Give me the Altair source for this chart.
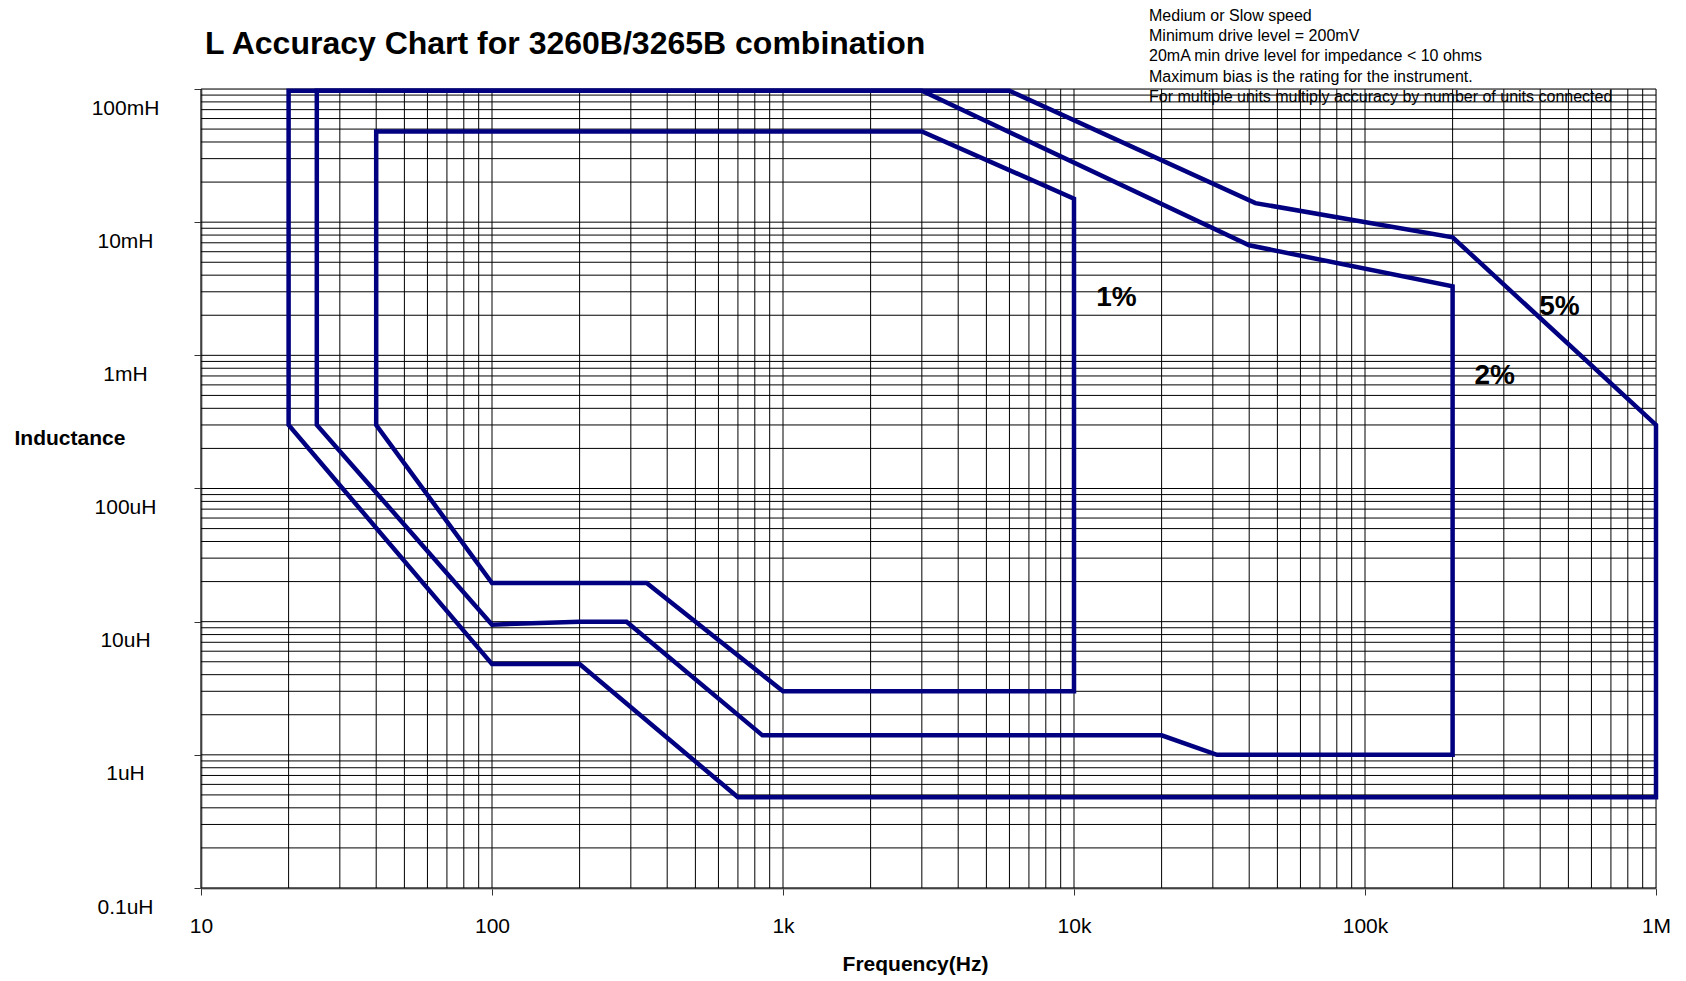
import altair as alt
import pandas as pd

FONT = "Liberation Sans"

# ---- data (frequency in Hz, inductance in H) ----
freq_1 = [40, 3000, 10000, 10000, 1000, 340, 100, 40, 40]
ind_1 = [0.048, 0.048, 0.015, 3e-6, 3e-6, 1.95e-5, 1.95e-5, 3e-4, 0.048]

freq_2 = [25, 3000, 40000, 200000, 200000, 31000, 20000, 850, 290, 200, 100, 25, 25]
ind_2 = [0.097, 0.097, 0.0067, 0.0033, 1e-6, 1e-6, 1.4e-6, 1.4e-6, 1e-5, 1e-5, 9.5e-6, 3e-4, 0.097]

freq_5 = [20, 6000, 42000, 200000, 1e6, 1e6, 700, 200, 100, 20, 20]
ind_5 = [0.097, 0.097, 0.0139, 0.0077, 3e-4, 4.8e-7, 4.8e-7, 4.8e-6, 4.8e-6, 3e-4, 0.097]

label_text = ["1%", "2%", "5%"]
label_freq = [14000, 279000, 466000]
label_ind = [2.7e-3, 0.7e-3, 2.3e-3]

x_tick_values = [10, 100, 1e3, 1e4, 1e5, 1e6]
x_tick_labels = ["10", "100", "1k", "10k", "100k", "1M"]
y_tick_values = [1e-7, 1e-6, 1e-5, 1e-4, 1e-3, 1e-2, 1e-1]
y_tick_labels = ["0.1uH", "1uH", "10uH", "100uH", "1mH", "10mH", "100mH"]

x_grid = [m * d for d in [10, 100, 1e3, 1e4, 1e5] for m in range(1, 10)] + [1e6]
y_grid = [m * d for d in [1e-7, 1e-6, 1e-5, 1e-4, 1e-3, 1e-2] for m in range(1, 10)] + [1e-1]

title_text = "L Accuracy Chart for 3260B/3265B combination"
note_lines = [
    "Medium or Slow speed",
    "Minimum drive level = 200mV",
    "20mA min drive level for impedance < 10 ohms",
    "Maximum bias is the rating for the instrument.",
    "For multiple units multiply accuracy by number of units connected",
]

# ---- tables ----
rows = []
for name, fs, ls in [("1%", freq_1, ind_1), ("2%", freq_2, ind_2), ("5%", freq_5, ind_5)]:
    for i, (f, l) in enumerate(zip(fs, ls)):
        rows.append({"series": name, "i": i, "f": f, "L": l})
curves_df = pd.DataFrame(rows)
labels_df = pd.DataFrame({"t": label_text, "f": label_freq, "L": label_ind})
xgrid_df = pd.DataFrame({"v": x_grid})
ygrid_df = pd.DataFrame({"v": y_grid})
one = pd.DataFrame({"t": [title_text]})

xs = alt.Scale(type="log", domain=[10, 1e6], nice=False)
ys = alt.Scale(type="log", domain=[1e-7, 1e-1], nice=False)

x_label_expr = "[" + ",".join("'%s'" % s for s in x_tick_labels) + "][round(log(datum.value)/LN10)-1]"
y_label_expr = "[" + ",".join("'%s'" % s for s in y_tick_labels) + "][round(log(datum.value)/LN10)+7]"

x_axis = alt.Axis(
    values=x_tick_values, labelExpr=x_label_expr, grid=False,
    title="Frequency(Hz)", titleFont=FONT, titleFontSize=21, titleFontWeight="bold",
    titleX=714, titleY=76, titleAlign="center", titleBaseline="middle", titleColor="black",
    labelFont=FONT, labelFontSize=21, labelColor="black", labelFlush=False, labelOverlap=False,
    labelBaseline="middle", labelPadding=31,
    tickSize=7, tickColor="#333333", tickWidth=1,
    domainColor="#808080", domainWidth=2,
)
y_axis = alt.Axis(
    values=y_tick_values, labelExpr=y_label_expr, grid=False,
    title="Inductance", titleFont=FONT, titleFontSize=21, titleFontWeight="bold",
    titleAngle=0, titleX=-187, titleY=349, titleAlign="left", titleBaseline="middle", titleColor="black",
    labelFont=FONT, labelFontSize=21, labelColor="black", labelFlush=False, labelOverlap=False,
    labelAlign="center", labelBaseline="middle", labelPadding=69, labelOffset=19,
    tickSize=7, tickColor="#333333", tickWidth=1,
    domainColor="#808080", domainWidth=2,
)

notes = alt.Chart(one).mark_text(
    align="left", baseline="top", font=FONT, fontSize=16, lineHeight=20.2, color="black"
).encode(x=alt.value(948), y=alt.value(-81), text=alt.value(note_lines))

xgrid = alt.Chart(xgrid_df).mark_rule(color="black", strokeWidth=1).encode(
    x=alt.X("v:Q", scale=xs, axis=x_axis)
)
ygrid = alt.Chart(ygrid_df).mark_rule(color="black", strokeWidth=1).encode(
    y=alt.Y("v:Q", scale=ys, axis=y_axis)
)

curves = alt.Chart(curves_df).mark_line(
    color="#000080", strokeWidth=4.5, strokeCap="square", strokeJoin="miter"
).encode(
    x=alt.X("f:Q", scale=xs, axis=x_axis),
    y=alt.Y("L:Q", scale=ys, axis=y_axis),
    detail="series:N",
    order="i:Q",
)

pct = alt.Chart(labels_df).mark_text(
    font=FONT, fontSize=28, fontWeight="bold", color="black", align="center", baseline="middle"
).encode(
    x=alt.X("f:Q", scale=xs, axis=x_axis),
    y=alt.Y("L:Q", scale=ys, axis=y_axis),
    text="t:N",
)

title = alt.Chart(one).mark_text(
    font=FONT, fontSize=32, fontWeight="bold", color="black", align="left", baseline="alphabetic"
).encode(x=alt.value(4), y=alt.value(-35), text="t:N")

chart = alt.layer(notes, xgrid, ygrid, curves, pct, title).properties(
    width=1455, height=799,
    autosize=alt.AutoSizeParams(type="none"),
    padding={"left": 193, "top": 81, "right": 22, "bottom": 90},
).configure_view(stroke="#808080", strokeWidth=2).configure(background="white")

chart.save("out.html", embed_options={"renderer": "svg", "actions": False})
